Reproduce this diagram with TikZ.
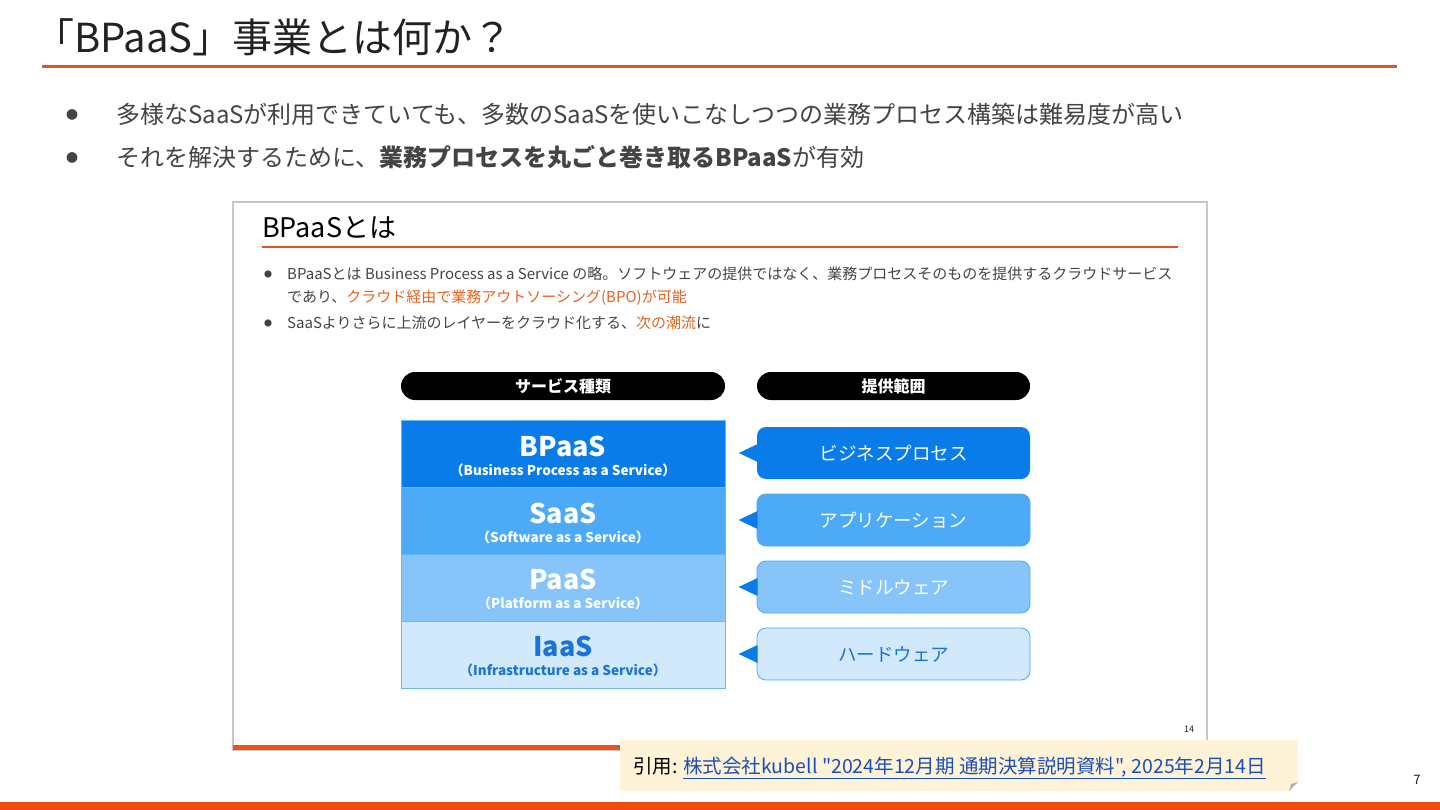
\documentclass[tikz,border=0pt]{standalone}
\usepackage{fontspec}
\setmainfont{Noto Sans CJK JP}
\newfontfamily\citefont{Noto Sans CJK JP}[Ligatures=TeXOff]
\newcommand\fsz[1]{\fontsize{#1}{#1}\selectfont}
\definecolor{titlec}{HTML}{222222}
\definecolor{bodyc}{HTML}{444444}
\definecolor{orgc}{HTML}{E8541C}
\definecolor{barc}{HTML}{EE4B0C}
\definecolor{hiorg}{HTML}{E8621E}
\definecolor{cA}{HTML}{0A7CE9}
\definecolor{cB}{HTML}{4DAAF6}
\definecolor{cC}{HTML}{86C4F9}
\definecolor{cD}{HTML}{D2E9FC}
\definecolor{cellln}{HTML}{6BB7F5}
\definecolor{iaasc}{HTML}{1A73D6}
\definecolor{notec}{HTML}{FEF3D6}
\definecolor{linkc}{HTML}{1C4FBE}
\begin{document}
\begin{tikzpicture}[x=1pt,y=-1pt,
  txt/.style={inner sep=0pt, anchor=base west},
  pill/.style={fill=black, rounded corners=14pt, minimum height=28pt, inner sep=0pt,
    text=white, font=\fsz{16}\bfseries},
  cell/.style={minimum width=324pt, minimum height=67pt, inner sep=0pt, draw=cellln, line width=0.8pt},
  rbox/.style={minimum width=273pt, minimum height=52pt, inner sep=0pt, rounded corners=9pt, font=\fsz{18.5}},
  ctitle/.style={inner sep=0pt, font=\fsz{27}\bfseries},
  csub/.style={inner sep=0pt, font=\fsz{13.5}\bfseries},
]
\useasboundingbox (0,0) rectangle (1440,810);
\fill[white] (0,0) rectangle (1440,810);

% title
\node[txt, text=titlec, font=\fsz{40}] (title) at (34,53) {「BPaaS」事業とは何か？};
\draw[orgc, line width=3pt] (42,67) -- (1397,67);

% bullets
\node[inner sep=0pt, text=bodyc, font=\fsz{12}] (b1) at (72,115) {●};
\node[txt, text=bodyc, font=\fsz{24}] (t1) at (116,124) {多様なSaaSが利用できていても、多数のSaaSを使いこなしつつの業務プロセス構築は難易度が高い};
\node[inner sep=0pt, text=bodyc, font=\fsz{12}] (b2) at (72,158) {●};
\node[txt, text=bodyc, font=\fsz{24}] (t2) at (116,167) {それを解決するために、\textbf{業務プロセスを丸ごと巻き取るBPaaS}が有効};

% inner slide
\fill[white] (233,202) rectangle (1207,750);
\draw[black!22, line width=1.5pt] (233,202) rectangle (1207,750);
\fill[orgc] (233,745) rectangle (1207,750);
\node[txt, text=black, font=\fsz{27}] (it) at (262,238) {BPaaSとは};
\draw[orgc, line width=2pt] (262,247) -- (1178,247);

\node[inner sep=0pt, text=bodyc, font=\fsz{8}] (ib1) at (268,274) {●};
\node[txt, text=bodyc, font=\fsz{15}] (il1) at (287,279.5) {BPaaSとは Business Process as a Service の略。ソフトウェアの提供ではなく、業務プロセスそのものを提供するクラウドサービス};
\node[txt, text=bodyc, font=\fsz{15}] (il2) at (287,302.5) {であり、\textcolor{hiorg}{クラウド経由で業務アウトソーシング(BPO)が可能}};
\node[inner sep=0pt, text=bodyc, font=\fsz{8}] (ib2) at (268,323) {●};
\node[txt, text=bodyc, font=\fsz{15}] (il3) at (287,328.5) {SaaSよりさらに上流のレイヤーをクラウド化する、\textcolor{hiorg}{次の潮流}に};

% headers
\node[pill, minimum width=324pt] (h1) at (563,386) {サービス種類};
\node[pill, minimum width=273pt] (h2) at (893.5,386) {提供範囲};

% stack
\node[cell, fill=cA] (s1) at (563,454) {};
\node[cell, fill=cB] (s2) at (563,521) {};
\node[cell, fill=cC] (s3) at (563,587.5) {};
\node[cell, fill=cD] (s4) at (563,654.5) {};
\node[ctitle, text=white, yshift=8pt] (s1t) at (s1.center) {BPaaS};
\node[csub, text=white, yshift=-16pt] (s1s) at (s1.center) {（Business Process as a Service）};
\node[ctitle, text=white, yshift=8pt] (s2t) at (s2.center) {SaaS};
\node[csub, text=white, yshift=-16pt] (s2s) at (s2.center) {（Software as a Service）};
\node[ctitle, text=white, yshift=8pt] (s3t) at (s3.center) {PaaS};
\node[csub, text=white, yshift=-16pt] (s3s) at (s3.center) {（Platform as a Service）};
\node[ctitle, text=iaasc, yshift=8pt] (s4t) at (s4.center) {IaaS};
\node[csub, text=iaasc, yshift=-16pt] (s4s) at (s4.center) {（Infrastructure as a Service）};

% right boxes
\node[rbox, fill=cA, text=white] (r1) at (893.5,453) {ビジネスプロセス};
\node[rbox, fill=cB, draw=cA!70, line width=0.8pt, text=white] (r2) at (893.5,520) {アプリケーション};
\node[rbox, fill=cC, draw=cB, line width=0.8pt, text=white] (r3) at (893.5,587) {ミドルウェア};
\node[rbox, fill=cD, draw=cB, line width=0.8pt, text=iaasc] (r4) at (893.5,654) {ハードウェア};
\fill[cA] ([xshift=-18pt]r1.west) -- ([xshift=1pt,yshift=9pt]r1.west) -- ([xshift=1pt,yshift=-9pt]r1.west) -- cycle;
\fill[cA] ([xshift=-18pt]r2.west) -- ([xshift=1pt,yshift=9pt]r2.west) -- ([xshift=1pt,yshift=-9pt]r2.west) -- cycle;
\fill[cA] ([xshift=-18pt]r3.west) -- ([xshift=1pt,yshift=9pt]r3.west) -- ([xshift=1pt,yshift=-9pt]r3.west) -- cycle;
\fill[cA] ([xshift=-18pt]r4.west) -- ([xshift=1pt,yshift=9pt]r4.west) -- ([xshift=1pt,yshift=-9pt]r4.west) -- cycle;

\node[inner sep=0pt, text=titlec, font=\fsz{9}] (pg14) at (1189,729) {14};

% note
\fill[notec] (620,740) -- (1298,740) -- (1298,782) -- (1289,791) -- (620,791) -- cycle;
\fill[black!30] (1289,791) -- (1291,784) -- (1298,782) -- cycle;
\node[txt, text=black, font=\citefont\fsz{19.5}] (cite) at (633,773) {引用: \textcolor{linkc}{\underline{株式会社kubell "2024年12月期 通期決算説明資料", 2025年2月14日}}};

\node[inner sep=0pt, text=titlec, font=\fsz{13}] (pg7) at (1417,780) {7};
\fill[barc] (0,802) rectangle (1440,810);
\end{tikzpicture}
\end{document}
